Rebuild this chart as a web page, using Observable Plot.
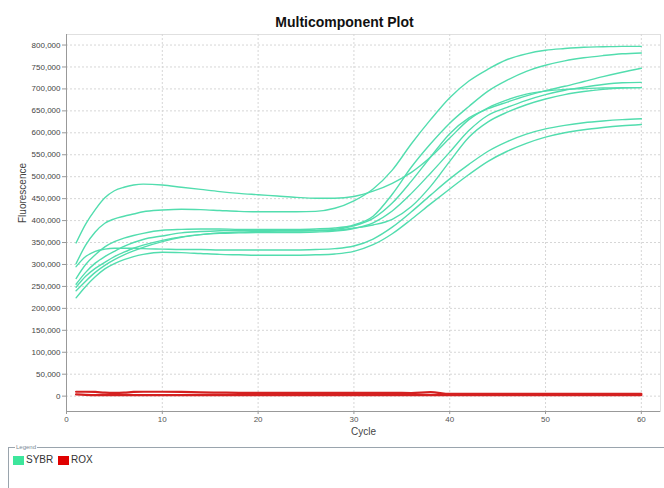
<!DOCTYPE html>
<html>
<head>
<meta charset="utf-8">
<script src="https://cdn.jsdelivr.net/npm/d3@7"></script>
<script src="https://cdn.jsdelivr.net/npm/@observablehq/plot@0.6"></script>
<style>
  html, body { margin: 0; padding: 0; background: #fff; }
  body { width: 664px; height: 488px; position: relative; overflow: hidden; font-family: "Liberation Sans", Arial, sans-serif; }
  #chart { position: absolute; left: 0; top: 0; }
  #legend { position: absolute; left: 8px; top: 447px; width: 700px; height: 60px; border-top: 1px solid #9aa4ad; border-left: 1px solid #9aa4ad; }
  #legend .lt { position: absolute; left: 6px; top: -5px; background: #fff; font-size: 6px; color: #7a8a96; padding: 0 1px; line-height: 8px; }
  #legend .sw { position: absolute; top: 8px; width: 11px; height: 9px; }
  #legend .lab { position: absolute; top: 6px; font-size: 10px; color: #333; line-height: 12px; }
</style>
</head>
<body>
<div id="chart"></div>
<div id="legend"></div>
<script>
// ---- data (values in thousands of fluorescence units) ----
const cycles = [1,2,3,4,5,6,7,8,10,12,14,16,18,20,22,24,26,28,30,32,34,36,38,40,42,44,46,48,50,52,54,56,58,60];

const sybrA = [349,392,425,452,468,476,481,483,481,476,471,466,462,459,456,453,451,451,455,467,485,510,545,588,630,657,675,688,695,699,701,702,703,703];
const sybrB = [302,344,374,394,404,410,415,420,424,426,425,423,421,420,420,420,421,428,445,472,515,575,630,680,718,745,767,780,788,792,795,796,797,797];
const sybrC = [268,300,322,340,352,360,366,371,378,380,381,381,380,380,380,380,381,383,390,410,460,522,575,622,660,695,720,740,754,764,771,776,780,782];
const sybrD = [255,282,303,318,330,341,350,357,365,372,375,377,378,378,377,377,378,380,388,405,440,490,545,598,634,655,670,684,696,706,717,728,738,747];
const sybrE = [248,273,291,305,318,328,337,344,355,363,368,371,372,373,373,373,374,376,382,395,422,462,508,556,605,640,658,674,687,697,704,710,714,715];
const sybrF = [240,262,282,298,311,322,331,339,352,362,368,372,374,375,376,376,377,378,383,390,403,432,478,535,590,625,647,664,677,687,694,699,702,703];
const sybrG = [295,318,330,335,337,337,337,336,335,334,334,333,333,333,333,333,334,336,342,358,385,420,458,495,528,558,580,597,609,617,623,627,630,632];
const sybrH = [224,250,272,290,302,311,318,323,328,327,325,323,322,321,321,321,322,324,330,345,370,403,438,472,505,535,558,576,590,600,607,612,616,619];

const rox1 = [10,10,9.5,8,7.5,8,9.5,10,10,9.5,8.5,8,7.5,7.5,7.5,7.5,7.5,7.5,7.5,7.5,7.5,7,9,5,5,5,5,5,5,5,5,5,5,5];
const rox2 = [4,3,2.5,2.5,2.5,2.5,2.5,2.5,2.5,2.5,2.5,2.5,2.5,2.5,2.5,2.5,2.5,2.5,2.5,2.5,2.5,2.5,2.5,2.5,2.5,2.5,2.5,2.5,2.5,2.5,2.5,2.5,2.5,2.5];

const xTicks = [0,10,20,30,40,50,60];
const yTicks = d3.range(0, 800001, 50000);
const titleText = "Multicomponent Plot";
const xLabel = "Cycle";
const yLabel = "Fluorescence";
const legendItems = [
  {name: "SYBR", color: "#3de69c"},
  {name: "ROX", color: "#e00000"}
];

// ---- build tables ----
function rows(arr, well, dye) {
  return cycles.map((c, i) => ({cycle: c, value: arr[i] * 1000, well, dye}));
}
const sybr = [
  ...rows(sybrA, "A", "SYBR"), ...rows(sybrB, "B", "SYBR"), ...rows(sybrC, "C", "SYBR"),
  ...rows(sybrD, "D", "SYBR"), ...rows(sybrE, "E", "SYBR"), ...rows(sybrF, "F", "SYBR"),
  ...rows(sybrG, "G", "SYBR"), ...rows(sybrH, "H", "SYBR")
];
const rox = [...rows(rox1, "R1", "ROX"), ...rows(rox2, "R2", "ROX")];

const chart = Plot.plot({
  width: 664,
  height: 442,
  marginLeft: 66,
  marginRight: 4,
  marginTop: 34,
  marginBottom: 31,
  style: {fontFamily: "'Liberation Sans', Arial, sans-serif", fontSize: "8px", color: "#444", background: "#fff"},
  x: {domain: [0, 62], label: null},
  y: {domain: [-35000, 824000], label: null},
  marks: [
    Plot.frame({stroke: "#e0e0e0"}),
    Plot.gridX(xTicks, {stroke: "#d6d6d6", strokeOpacity: 1, strokeDasharray: "2,2"}),
    Plot.gridY(yTicks, {stroke: "#d6d6d6", strokeOpacity: 1, strokeDasharray: "2,2"}),
    Plot.axisX(xTicks, {tickSize: 3, tickPadding: 2, stroke: "#999", fill: "#555", label: null}),
    Plot.axisY(yTicks, {tickSize: 4, tickPadding: 2, stroke: "#999", fill: "#444", tickFormat: d3.format(","), label: null}),
    Plot.ruleX([0], {stroke: "#999"}),
    Plot.ruleY([-35000], {stroke: "#999"}),
    Plot.line(rox, {x: "cycle", y: "value", z: "well", stroke: "#d42020", strokeWidth: 2.2, curve: "monotone-x"}),
    Plot.line(sybr, {x: "cycle", y: "value", z: "well", stroke: "#52ddae", strokeWidth: 1.4, curve: "monotone-x"}),
    Plot.text([titleText], {frameAnchor: "top", dx: -19, dy: -17, fontSize: 14, fontWeight: "bold", fill: "#111"}),
    Plot.text([yLabel], {frameAnchor: "left", dx: -44, rotate: -90, fontSize: 10, fill: "#444"}),
    Plot.text([xLabel], {frameAnchor: "bottom", dy: 23, fontSize: 10, fill: "#444"})
  ]
});
document.getElementById("chart").appendChild(chart);

// ---- legend ----
const lg = document.getElementById("legend");
const lt = document.createElement("span");
lt.className = "lt"; lt.textContent = "Legend";
lg.appendChild(lt);
let lx = 4;
legendItems.forEach(it => {
  const sw = document.createElement("div");
  sw.className = "sw"; sw.style.left = lx + "px"; sw.style.background = it.color;
  lg.appendChild(sw);
  const lb = document.createElement("span");
  lb.className = "lab"; lb.style.left = (lx + 13) + "px"; lb.textContent = it.name;
  lg.appendChild(lb);
  lx += 45;
});
</script>
</body>
</html>
